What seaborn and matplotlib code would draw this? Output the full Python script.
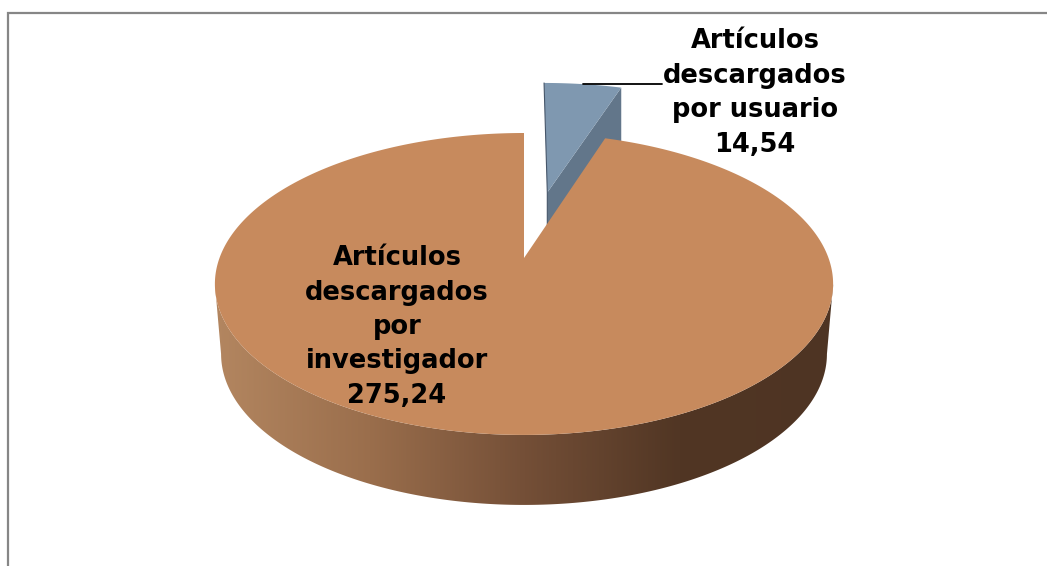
import numpy as np
import matplotlib
matplotlib.use("Agg")
import matplotlib.pyplot as plt
from matplotlib.colors import LinearSegmentedColormap
import seaborn as sns

# datos
categorias = ["Artículos\ndescargados\npor usuario", "Artículos\ndescargados\npor\ninvestigador"]
valores = [14.54, 275.24]
etiquetas_valor = ["14,54", "275,24"]

# colores
TOP_COLORS = ["#7f98b0", "#c78a5d"]
SIDE_SMALL = "#62768a"
SIDE_STOPS = ["#b38660", "#9a6e4c", "#744f37", "#513624", "#4e3423"]
BORDER = "#868686"

# geometria del pastel (en pixeles), con perspectiva
CX, CY, RX = 524, 284, 304.5
A, B, K = 146.5, 26, 0.172
DEPTH = 70
EXPLODE = 0.49
SMALL_R = 1.02
SMALL_SHIFT = 0.006
BOTTOM_X = 0.98


def project(u, v):
    w = 1 + K * v
    return CX + RX * u / w, CY - (A * v / w + B)


def rim(a0, a1, n=300, off=(0, 0), r=1.0):
    t = np.radians(np.linspace(a0, a1, n))
    return project(r * np.sin(t) + off[0], r * np.cos(t) + off[1])


sns.set_theme(style="white")
plt.rcParams['font.family'] = ['DejaVu Sans']

fig = plt.figure(figsize=(10.47, 5.66), dpi=100)
ax = fig.add_axes([0, 0, 1, 1])

# marco del grafico
ax.plot([7.5, 7.5, 1047], [566, 12.5, 12.5], color=BORDER, lw=1.6, solid_joinstyle="miter", zorder=1)

# angulos a partir de los valores
fracs = np.array(valores) / sum(valores)
ang = 360 * fracs[0]

# sector pequeno (separado)
mid = np.radians(ang / 2)
off = (EXPLODE * np.sin(mid) + SMALL_SHIFT, EXPLODE * np.cos(mid))
ax0, ay0 = project(*off)
xs, ys = rim(0, ang, 60, off, SMALL_R)
ax.fill([ax0, xs[-1], xs[-1], ax0], [ay0, ys[-1], ys[-1] + DEPTH, ay0 + DEPTH], color=SIDE_SMALL, lw=0, zorder=2)
ax.fill(np.r_[ax0, xs], np.r_[ay0, ys], color=TOP_COLORS[0], lw=0, zorder=3)
ax.plot([xs[0], ax0, ax0], [ys[0], ay0, ay0 + DEPTH], color="#46566a", lw=0.8, zorder=4)

# pared lateral del sector grande, con degradado
cmap = LinearSegmentedColormap.from_list("lado", SIDE_STOPS)
xs, ys = rim(ang, 360, 1500)
t = np.radians(np.linspace(ang, 360, 1500))
vis = np.cos(t) <= -K
xv, yv = xs[vis], ys[vis]
xb = CX + (xv - CX) * BOTTOM_X
side = ax.fill(np.r_[xv, xb[::-1]], np.r_[yv, yv[::-1] + DEPTH], color="none", lw=0, zorder=5)[0]
grad = ax.imshow(np.linspace(0, 1, 512)[None, :], cmap=cmap, aspect="auto",
                 extent=(xv.min(), xv.max(), 566, 0), zorder=5, interpolation="bilinear")
grad.set_clip_path(side)

# cara superior del sector grande
ax0, ay0 = project(0, 0)
ax.fill(np.r_[ax0, xs], np.r_[ay0, ys], color=TOP_COLORS[1], lw=0, zorder=6)

# linea guia y etiquetas
ax.plot([583, 662], [84, 84], color="black", lw=1.3, zorder=7)
FS = 18.5
for txt, val, x, y in [(categorias[0], etiquetas_valor[0], 755, 93),
                       (categorias[1], etiquetas_valor[1], 397, 327)]:
    ax.text(x, y, txt + "\n" + val, ha="center", va="center", fontsize=FS,
            fontweight="bold", color="black", linespacing=1.42, zorder=8)

ax.set_xlim(0, 1047)
ax.set_ylim(566, 0)
ax.axis("off")

fig.savefig("out.png", dpi=100)
